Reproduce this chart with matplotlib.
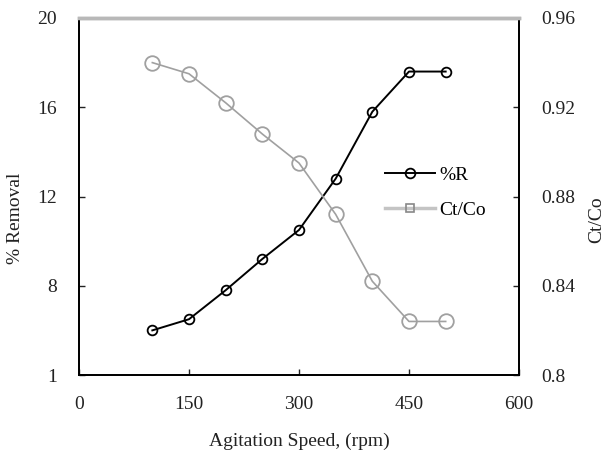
import matplotlib.pyplot as plt
from matplotlib.lines import Line2D

plt.rcParams['font.family'] = ['Liberation Serif', 'DejaVu Serif']

# agitation speed (rpm) and the two measured series
speed = [100, 150, 200, 250, 300, 350, 400, 450, 500]
removal = [6.0, 6.5, 7.8, 9.2, 10.5, 12.8, 15.8, 17.6, 17.6]
ratio = [0.940, 0.935, 0.922, 0.908, 0.895, 0.872, 0.842, 0.824, 0.824]

x_ticks = [0, 150, 300, 450, 600]
left_ticks = [4, 8, 12, 16, 20]
left_labels = ['1', '8', '12', '16', '20']
right_ticks = [0.80, 0.84, 0.88, 0.92, 0.96]
right_labels = ['0.8', '0.84', '0.88', '0.92', '0.96']

W, H = 611, 454
fig = plt.figure(figsize=(W / 100, H / 100), dpi=100)
ax = fig.add_axes([79 / W, 1 - 375 / H, 440 / W, 357 / H])
ax2 = ax.twinx()

ax.plot(speed, removal, color='black', lw=1.4, marker='o', ms=7,
        mfc='none', mec='black', mew=1.3, zorder=3)
ax2.plot(speed, ratio, color='#a0a0a0', lw=1.2, marker='o', ms=10.5,
         mfc='none', mec='#a0a0a0', mew=1.3, zorder=2)

ax.set_xlim(0, 600)
ax.set_ylim(4, 20)
ax2.set_ylim(0.80, 0.96)
ax.set_xticks(x_ticks)
ax.set_yticks(left_ticks)
ax.set_yticklabels(left_labels)
ax2.set_yticks(right_ticks)
ax2.set_yticklabels(right_labels)

for a in (ax, ax2):
    a.tick_params(direction='in', length=4, width=1, labelsize=14, colors='#222222')
    for s in a.spines.values():
        s.set_linewidth(1.3)
    a.spines['top'].set_color('#b8b8b8')
    a.spines['top'].set_linewidth(2.5)
ax.tick_params(axis='x', pad=15)
ax.tick_params(axis='y', pad=16)
ax2.tick_params(axis='y', pad=16)

# axis titles placed in figure pixels
fig.text(299 / W, 1 - 441 / H, 'Agitation Speed, (rpm)', fontsize=14,
         ha='center', va='center', color='#222222')
fig.text(16 / W, 1 - 218 / H, '% Removal', fontsize=14, rotation=90,
         ha='center', va='center', color='#222222')
fig.text(597 / W, 1 - 220 / H, 'Ct/Co', fontsize=14, rotation=90,
         ha='center', va='center', color='#222222')

handles = [
    Line2D([], [], color='black', lw=1.4, marker='o', ms=7, mfc='none', mew=1.3),
    Line2D([], [], color='#c4c4c4', lw=2.5, marker='s', ms=6, mfc='none',
           mec='#888888', mew=1.2),
]
ax.legend(handles, ['%R', 'Ct/Co'], loc='center left',
          bbox_to_anchor=(0.655, 0.51), frameon=False, fontsize=14,
          handlelength=2.6, handletextpad=0.2, labelspacing=0.9)

fig.savefig('out.png', dpi=100)
